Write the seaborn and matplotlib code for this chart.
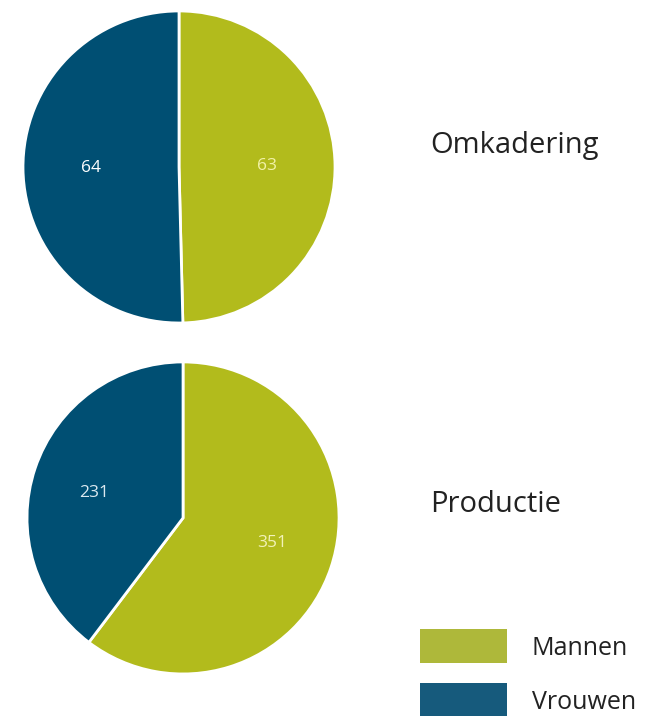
import matplotlib
matplotlib.use("Agg")
import matplotlib.pyplot as plt
from matplotlib.patches import Patch
import seaborn as sns

# data
genders = ['Mannen', 'Vrouwen']
groups = ['Omkadering', 'Productie']
omkadering = [63, 64]
productie = [351, 231]

sns.set_theme(style="white")
plt.rcParams['font.family'] = ['Open Sans', 'DejaVu Sans']

pie_colors = ['#b2bb1c', '#004f73']
legend_colors = ['#aeb83a', '#165a7c']
label_colors = [['#f2f2a8', '#ffffff'], ['#f2f2b8', '#dce9f0']]

fig = plt.figure(figsize=(6.48, 7.16), dpi=100)
axes = [fig.add_axes([0.0355, 0.5489, 0.4815, 0.4358]),
        fig.add_axes([0.0417, 0.0587, 0.4815, 0.4358])]

for ax, vals, title, lcols, ty in zip(axes, [omkadering, productie], groups,
                                       label_colors, [0.797, 0.296]):
    wedges, texts = ax.pie(vals, colors=pie_colors, startangle=90, counterclock=False,
                           labels=[str(v) for v in vals], labeldistance=0.5,
                           wedgeprops=dict(edgecolor='white', linewidth=2),
                           textprops=dict(fontsize=12.5))
    for t, c in zip(texts, lcols):
        t.set_color(c)
    ax.set_xlim(-1.0, 1.0)
    ax.set_ylim(-1.0, 1.0)
    ax.set_aspect('equal')
    ax.axis('off')
    fig.text(0.664, ty, title, fontsize=21, color='#222222', va='center', ha='left')

handles = [Patch(facecolor=c, edgecolor='none') for c in legend_colors]
fig.legend(handles, genders, loc='upper left', bbox_to_anchor=(0.648, 0.121),
           frameon=False, fontsize=18, handlelength=3.48, handleheight=1.72,
           labelspacing=0.8, handletextpad=1.0, borderpad=0, borderaxespad=0,
           labelcolor='#222222')

fig.savefig('out.png', dpi=100)
